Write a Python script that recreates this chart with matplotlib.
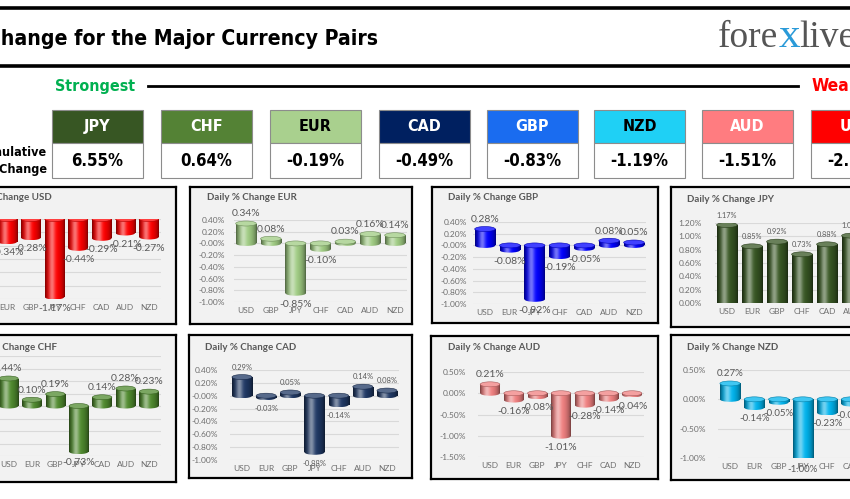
import numpy as np
import matplotlib
matplotlib.use('Agg')
import matplotlib.pyplot as plt
import matplotlib.font_manager as fm
from matplotlib.font_manager import FontProperties
from matplotlib.colors import to_rgb
from matplotlib.patches import Rectangle, Ellipse
from matplotlib.lines import Line2D

# ---- data ----
rank_ccy = ['JPY', 'CHF', 'EUR', 'CAD', 'GBP', 'NZD', 'AUD', 'USD']
rank_vals = [6.55, 0.64, -0.19, -0.49, -0.83, -1.19, -1.51, -2.36]

usd_cats = ['EUR', 'GBP', 'JPY', 'CHF', 'CAD', 'AUD', 'NZD']
usd_vals = [-0.34, -0.28, -1.17, -0.44, -0.29, -0.21, -0.27]
eur_cats = ['USD', 'GBP', 'JPY', 'CHF', 'CAD', 'AUD', 'NZD']
eur_vals = [0.34, 0.08, -0.85, -0.10, 0.03, 0.16, 0.14]
gbp_cats = ['USD', 'EUR', 'JPY', 'CHF', 'CAD', 'AUD', 'NZD']
gbp_vals = [0.28, -0.08, -0.92, -0.19, -0.05, 0.08, 0.05]
jpy_cats = ['USD', 'EUR', 'GBP', 'CHF', 'CAD', 'AUD', 'NZD']
jpy_vals = [1.17, 0.85, 0.92, 0.73, 0.88, 1.01, 1.00]
chf_cats = ['USD', 'EUR', 'GBP', 'JPY', 'CAD', 'AUD', 'NZD']
chf_vals = [0.44, 0.10, 0.19, -0.73, 0.14, 0.28, 0.23]
cad_cats = ['USD', 'EUR', 'GBP', 'JPY', 'CHF', 'AUD', 'NZD']
cad_vals = [0.29, -0.03, 0.05, -0.88, -0.14, 0.14, 0.08]
aud_cats = ['USD', 'EUR', 'GBP', 'JPY', 'CHF', 'CAD', 'NZD']
aud_vals = [0.21, -0.16, -0.08, -1.01, -0.28, -0.14, -0.04]
nzd_cats = ['USD', 'EUR', 'GBP', 'JPY', 'CHF', 'CAD', 'AUD']
nzd_vals = [0.27, -0.14, -0.05, -1.00, -0.23, -0.08, 0.04]

# ---- styles ----
head_colors = {'JPY': '#375623', 'CHF': '#548235', 'EUR': '#A9D08E', 'CAD': '#002060',
               'GBP': '#1a6cf0', 'NZD': '#1fd0f5', 'AUD': '#ff7c80', 'USD': '#ff0000'}
head_text = {'EUR': 'black', 'NZD': 'black'}
bar_colors = {'USD': '#ff0000', 'EUR': '#9fcb82', 'GBP': '#0000ff', 'JPY': '#375623',
              'CHF': '#4f8a2e', 'CAD': '#1f3864', 'AUD': '#f08080', 'NZD': '#00b4ee'}

W, H = 850, 499
BODY = ['Lato', 'DejaVu Sans']


def find_narrow():
    # look for any condensed / narrow bold face that is installed
    best = None
    for f in fm.fontManager.ttflist:
        nm = f.name.lower()
        st = str(f.stretch).lower()
        if not ('narrow' in nm or 'condensed' in nm or 'condensed' in st or 'compressed' in nm):
            continue
        w = f.weight
        if isinstance(w, str):
            w = fm.weight_dict.get(w, 400)
        score = abs(w - 700) + (0 if str(f.style) == 'normal' else 500)
        if best is None or score < best[0]:
            best = (score, f.fname)
    return best[1] if best else None


NARROW_FILE = find_narrow()


def nfp(size):
    if NARROW_FILE:
        return FontProperties(fname=NARROW_FILE, size=size)
    return FontProperties(family='DejaVu Sans', weight='bold', stretch='condensed', size=size)


def frac(x0, y0, x1, y1):
    return [x0 / W, 1 - y1 / H, (x1 - x0) / W, (y1 - y0) / H]


def cyl(base, n=80):
    t = np.linspace(0, 1, n)
    rgb = np.array(to_rgb(base))
    shade = 0.45 + 0.55 * np.sin(np.pi * t) ** 0.6
    col = rgb[None, :] * shade[:, None]
    hl = 0.45 * np.exp(-((t - 0.35) / 0.16) ** 2)
    col = col + (1 - col) * hl[:, None]
    return col[None, :, :]


fig = plt.figure(figsize=(8.5, 4.99), dpi=100)
bg = fig.add_axes([0, 0, 1, 1])
bg.set_xlim(0, W)
bg.set_ylim(H, 0)
bg.axis('off')

# header lines
bg.add_line(Line2D([0, W], [8, 8], color='black', lw=2.6))
bg.add_line(Line2D([0, W], [66, 66], color='black', lw=2.6))
bg.text(378, 39, '% Change for the Major Currency Pairs', ha='right', va='center',
        fontproperties=nfp(15.2), color='black')

# logo
renderer = fig.canvas.get_renderer()
x = 718
for part, c, fs in [('fore', '#555555', 27), ('x', '#2a9ad8', 31), ('live', '#555555', 27)]:
    t = bg.text(x, 47, part, ha='left', va='baseline', fontsize=fs,
                family=['Liberation Serif', 'DejaVu Serif'], color=c)
    x += t.get_window_extent(renderer).width

# strongest / weakest
bg.text(55, 86, 'Strongest', ha='left', va='center', fontproperties=nfp(11.5), color='#00b050')
bg.add_line(Line2D([148, 798], [86, 86], color='black', lw=2))
bg.text(812, 86, 'Weakest', ha='left', va='center', fontproperties=nfp(12.5), color='#ff0000')

bg.text(47, 153, 'Cumulative', ha='right', va='center', fontproperties=nfp(9))
bg.text(47, 170, '% Change', ha='right', va='center', fontproperties=nfp(9))

box_x = [52, 161, 270, 379, 487, 594, 702, 811]
for bx, ccy, v in zip(box_x, rank_ccy, rank_vals):
    bg.add_patch(Rectangle((bx, 110), 91, 33, facecolor=head_colors[ccy], edgecolor='#8c8c8c', lw=0.8))
    bg.add_patch(Rectangle((bx, 143), 91, 35, facecolor='white', edgecolor='#8c8c8c', lw=0.8))
    bg.text(bx + 45.5, 126.5, ccy, ha='center', va='center', fontproperties=nfp(11.5),
            color=head_text.get(ccy, 'white'))
    bg.text(bx + 45.5, 161, f'{v:.2f}%', ha='center', va='center', fontproperties=nfp(12),
            color='black')

# panels: name, cats, vals, frame, first/last centre x, ylim, top/bottom y, step, title pos, label size, ytick pad
panels = [
    ('USD', usd_cats, usd_vals, (-10, 187, 176, 324), (7.3, 148.9), (-1.2, 0.0), (219, 299), 0.2, (52, 197, 'right'), 7.5, 5),
    ('EUR', eur_cats, eur_vals, (190, 187, 412, 324), (246, 395), (-1.0, 0.4), (220, 302), 0.2, (207, 198, 'left'), 7.5, 6),
    ('GBP', gbp_cats, gbp_vals, (432, 187, 658, 323), (485, 634), (-1.0, 0.4), (222, 304), 0.2, (448, 197, 'left'), 7.5, 4),
    ('JPY', jpy_cats, jpy_vals, (671, 187, 875, 327), (727, 877), (0.0, 1.2), (223, 303), 0.2, (687, 199, 'left'), 5.3, 9),
    ('CHF', chf_cats, chf_vals, (-10, 335, 176, 482), (8.5, 149), (-0.8, 0.8), (356, 456), 0.2, (57, 347, 'right'), 7.5, 5),
    ('CAD', cad_cats, cad_vals, (189, 335, 412, 478), (242, 387), (-1.0, 0.4), (370, 460), 0.2, (205, 347, 'left'), 5.5, 8.6),
    ('AUD', aud_cats, aud_vals, (431, 336, 658, 479), (490, 632), (-1.5, 0.5), (372, 457), 0.5, (448, 347, 'left'), 7.5, 8.6),
    ('NZD', nzd_cats, nzd_vals, (671, 335, 875, 480), (730, 875.8), (-1.0, 0.5), (370, 458), 0.5, (687, 347, 'left'), 7, 8.6),
]

for name, cats, vals, fr, cx, ylim, ypx, step, tpos, lsize, ypad in panels:
    frame = fig.add_axes(frac(*fr))
    frame.set_facecolor('#f2f2f2')
    frame.set_xticks([])
    frame.set_yticks([])
    for s in frame.spines.values():
        s.set_linewidth(1.6)
        s.set_color('black')
    fig.text(tpos[0] / W, 1 - tpos[1] / H, f'Daily % Change {name}', ha=tpos[2], va='center',
             fontsize=7, fontweight='bold', family=BODY, color='#595959', zorder=5)

    sp = (cx[1] - cx[0]) / 6
    ax = fig.add_axes(frac(cx[0] - sp / 2, ypx[0], cx[1] + sp / 2, ypx[1]))
    ax.patch.set_alpha(0)
    xs = np.arange(len(cats))
    base = bar_colors[name]
    bars = ax.bar(xs, vals, width=0.83, color=base, zorder=2)
    grad = cyl(base)
    eh = 5 * (ylim[1] - ylim[0]) / (ypx[1] - ypx[0])   # ellipse height ~5 px
    rgb = np.array(to_rgb(base))
    cap = rgb + (1 - rgb) * 0.25
    for p in bars:
        x0, w = p.get_x(), p.get_width()
        y0, y1 = sorted([p.get_y(), p.get_y() + p.get_height()])
        im = ax.imshow(grad, extent=[x0, x0 + w, y0, y1],
                       aspect='auto', interpolation='bilinear', zorder=3)
        im.set_clip_path(p)
        # rounded lower end of the cylinder
        low = Ellipse((x0 + w / 2, y0), w, eh, facecolor='none', edgecolor='none', zorder=3)
        ax.add_patch(low)
        im2 = ax.imshow(grad, extent=[x0, x0 + w, y0 - eh / 2, y0 + eh / 2],
                        aspect='auto', interpolation='bilinear', zorder=3)
        im2.set_clip_path(low)
        # top face
        ax.add_patch(Ellipse((x0 + w / 2, y1), w, eh, facecolor=cap, edgecolor=rgb * 0.7,
                             lw=0.4, zorder=4))
    for xi, v in zip(xs, vals):
        off = 7 if v >= 0 else -8
        ax.annotate(f'{v:.2f}%', (xi, v), xytext=(0, off), textcoords='offset points',
                    ha='center', va='center', fontsize=lsize, family=BODY, color='#595959', zorder=6,
                    annotation_clip=False)
    ax.set_xlim(-0.5, len(cats) - 0.5)
    ax.set_ylim(*ylim)
    ticks = np.round(np.arange(ylim[0], ylim[1] + step / 2, step), 2)
    ax.set_yticks(ticks)
    ax.set_yticklabels([f'{t:.2f}%' for t in ticks])
    ax.set_xticks(xs)
    ax.set_xticklabels(cats)
    ax.tick_params(length=0, labelsize=6, labelcolor='#6e6e6e')
    ax.tick_params(axis='x', pad=3.5)
    ax.tick_params(axis='y', pad=ypad)
    for lab in ax.get_xticklabels() + ax.get_yticklabels():
        lab.set_family(BODY)
    ax.grid(axis='y', color='#d9d9d9', lw=0.8, zorder=0)
    ax.set_axisbelow(True)
    for s in ax.spines.values():
        s.set_visible(False)

fig.savefig('out.png', dpi=100)
